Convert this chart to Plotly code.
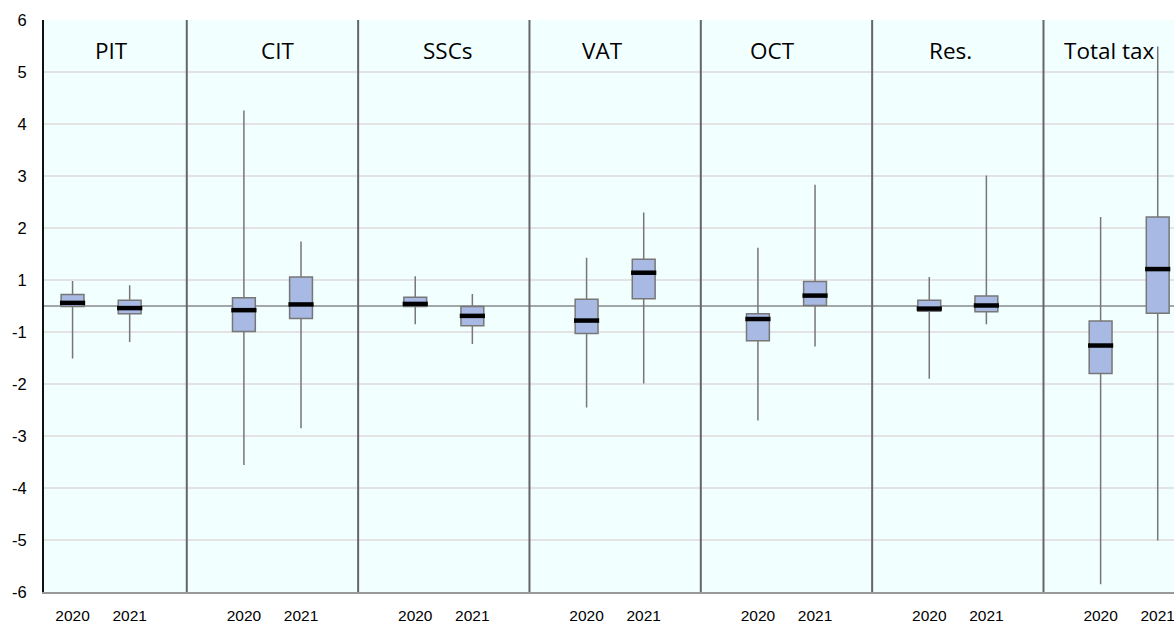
import plotly.graph_objects as go

# ---- data ----
categories = ["PIT", "CIT", "SSCs", "VAT", "OCT", "Res.", "Total tax"]
years = ["2020", "2021"]

# per category: [2020, 2021]
upper = [[0.48, 0.40], [3.76, 1.24], [0.57, 0.23], [0.93, 1.80], [1.12, 2.33], [0.56, 2.51], [1.71, 4.99]]
q3    = [[0.22, 0.11], [0.16, 0.56], [0.17, -0.01], [0.13, 0.90], [-0.15, 0.47], [0.11, 0.19], [-0.29, 1.71]]
med   = [[0.06, -0.04], [-0.08, 0.03], [0.04, -0.19], [-0.28, 0.64], [-0.25, 0.20], [-0.05, 0.01], [-0.76, 0.71]]
q1    = [[-0.01, -0.15], [-0.49, -0.24], [-0.01, -0.38], [-0.53, 0.14], [-0.67, 0.01], [-0.10, -0.11], [-1.30, -0.14]]
lower = [[-1.01, -0.69], [-3.06, -2.35], [-0.35, -0.73], [-1.95, -1.49], [-2.20, -0.78], [-1.40, -0.35], [-5.35, -4.51]]

ytick_labels = ["-6", "-5", "-4", "-3", "-2", "-1", "1", "2", "3", "4", "5", "6"]

# ---- layout helpers ----
title_offsets = [1.69, 1.58, 1.57, 1.28, 1.26, 1.38, 1.15]  # title centre within each panel

xs, lo, qa, md, qb, hi, tickv, tickt = [], [], [], [], [], [], [], []
for i, c in enumerate(categories):
    for j, yr in enumerate(years):
        pos = 3 * i + 1 + j
        xs.append(pos)
        lo.append(lower[i][j]); qa.append(q1[i][j]); md.append(med[i][j])
        qb.append(q3[i][j]); hi.append(upper[i][j])
        tickv.append(pos); tickt.append(yr)

fig = go.Figure()
fig.add_trace(go.Box(
    x=xs, q1=qa, median=md, q3=qb, lowerfence=lo, upperfence=hi,
    width=0.40, whiskerwidth=0,
    fillcolor="#A8B9E3", line=dict(color="#777777", width=1.5),
    boxpoints=False, hoverinfo="skip", showlegend=False,
))
# thick black median bars
fig.add_trace(go.Scatter(
    x=xs, y=md, mode="markers",
    marker=dict(symbol="line-ew", size=18, line=dict(color="black", width=4.5)),
    hoverinfo="skip", showlegend=False,
))

shapes = []
# zero line
shapes.append(dict(type="line", xref="paper", x0=0, x1=1, yref="y", y0=0, y1=0,
                   line=dict(color="#8a8a8a", width=1.5), layer="below"))
# panel separators
for i in range(1, len(categories)):
    shapes.append(dict(type="line", xref="x", x0=3 * i, x1=3 * i, yref="paper", y0=0, y1=1,
                       line=dict(color="#666666", width=2), layer="above"))

annotations = []
for i, c in enumerate(categories):
    annotations.append(dict(x=3 * i + title_offsets[i], y=4.92, xref="x", yref="y", text=c,
                            showarrow=False, xanchor="center", yanchor="middle",
                            font=dict(family="Open Sans, Noto Sans, sans-serif", size=22.5, color="black")))

ytv = [-5.5, -4.5, -3.5, -2.5, -1.5, -0.5, 0.5, 1.5, 2.5, 3.5, 4.5, 5.5]

fig.update_layout(
    width=1174, height=625,
    margin=dict(l=44, r=0, t=20, b=33),
    paper_bgcolor="white", plot_bgcolor="#F2FFFF",
    shapes=shapes, annotations=annotations,
    font=dict(family="Liberation Sans, Arial, sans-serif", size=16, color="black"),
)
fig.update_xaxes(
    range=[0.5, 20.285], tickvals=tickv, ticktext=tickt,
    tickfont=dict(size=15.5),
    showgrid=False, zeroline=False,
    showline=True, linecolor="#999999", linewidth=2,
    ticks="outside", ticklen=8, tickcolor="rgba(0,0,0,0)",
    ticklabeloverflow="allow",
    automargin=False,
)
fig.update_yaxes(
    range=[-5.5, 5.5], tickvals=ytv, ticktext=ytick_labels,
    tickfont=dict(size=16.5),
    showgrid=True, gridcolor="#e3e3e3", gridwidth=2,
    zeroline=False,
    showline=True, linecolor="#111111", linewidth=2,
    ticks="outside", ticklen=12, tickcolor="rgba(0,0,0,0)",
    automargin=False,
)

fig.write_html("out.html", config={"displayModeBar": False},
               post_script="document.body.style.margin='0';document.body.style.overflow='hidden';")
